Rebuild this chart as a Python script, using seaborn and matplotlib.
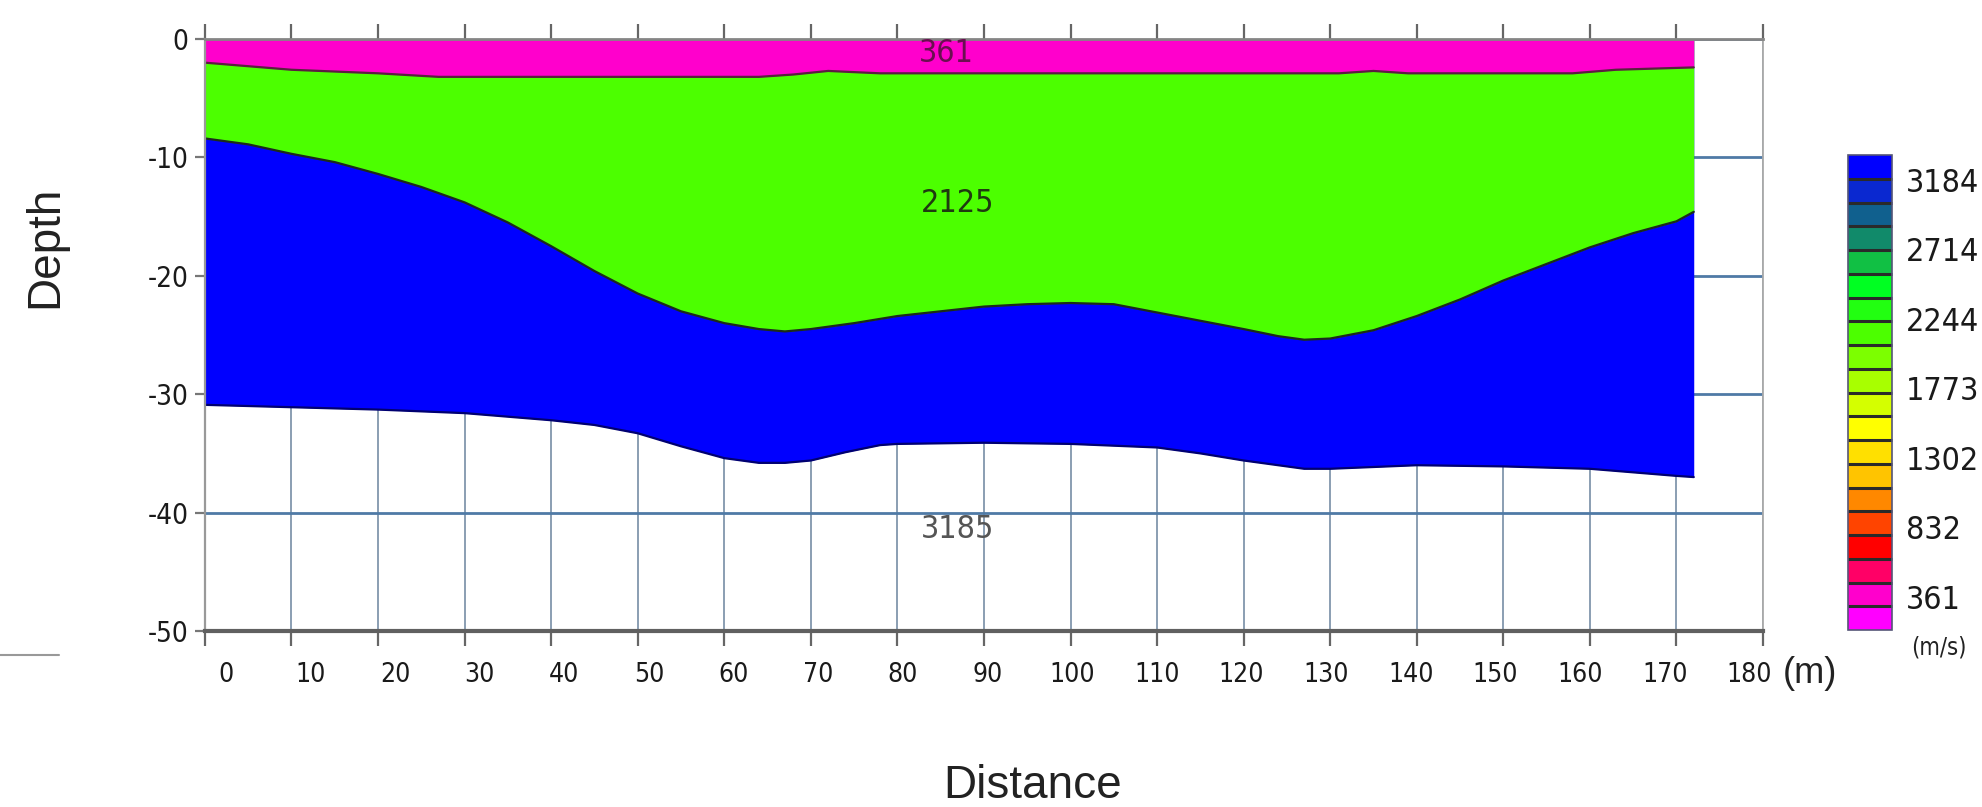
import numpy as np
import pandas as pd
import matplotlib
matplotlib.use("Agg")
import matplotlib.pyplot as plt
import seaborn as sns
from matplotlib import font_manager
from matplotlib.colors import ListedColormap, BoundaryNorm
from matplotlib.cm import ScalarMappable
from matplotlib.lines import Line2D

# ---------------- data ----------------
# interface between 361 m/s layer and 2125 m/s layer
top_x = [0, 5, 10, 20, 27, 64, 68, 72, 78, 131, 135, 139, 158, 163, 172]
top_depth = [-2.0, -2.3, -2.6, -2.9, -3.2, -3.2, -3.0, -2.7, -2.9, -2.9, -2.7, -2.9, -2.9, -2.6, -2.4]

# interface between 2125 m/s layer and 3184 m/s layer
mid_x = [0, 5, 10, 15, 20, 25, 30, 35, 40, 45, 50, 55, 60, 64, 67, 70, 75, 80, 85, 90, 95, 100, 105,
         110, 115, 120, 124, 127, 130, 135, 140, 145, 150, 155, 160, 165, 170, 172]
mid_depth = [-8.4, -8.9, -9.7, -10.4, -11.4, -12.5, -13.8, -15.5, -17.5, -19.6, -21.5, -23.0, -24.0,
             -24.5, -24.7, -24.5, -24.0, -23.4, -23.0, -22.6, -22.4, -22.3, -22.4, -23.1, -23.8, -24.5,
             -25.1, -25.4, -25.3, -24.6, -23.4, -22.0, -20.4, -19.0, -17.6, -16.4, -15.4, -14.6]

# bottom of the 3184 m/s layer
bot_x = [0, 10, 20, 30, 40, 45, 50, 55, 60, 64, 67, 70, 74, 78, 80, 90, 100, 110, 115, 120, 127, 130,
         140, 150, 160, 170, 172]
bot_depth = [-30.9, -31.1, -31.3, -31.6, -32.2, -32.6, -33.3, -34.4, -35.4, -35.8, -35.8, -35.6, -34.9,
             -34.3, -34.2, -34.1, -34.2, -34.5, -35.0, -35.6, -36.3, -36.3, -36.0, -36.1, -36.3, -36.9,
             -37.0]

layer_labels = ["361", "2125", "3185"]
layer_label_x = [85.7, 86.9, 86.9]
layer_label_depth = [-1.2, -13.9, -41.4]

x_ticks = list(range(0, 181, 10))
x_tick_labels = [str(v) for v in x_ticks]
y_ticks = list(range(-50, 1, 10))
y_tick_labels = [str(v) for v in y_ticks]

cb_ticks = [361, 832, 1302, 1773, 2244, 2714, 3184]
cb_min, cb_max, cb_nbands = 136, 3354, 20
cb_colors = ['#ff00ff', '#ff00cc', '#ff0066', '#ff0000', '#ff4400', '#ff8800', '#ffc400', '#ffe000',
             '#ffff00', '#d4ff00', '#a8ff00', '#7cff00', '#4cff00', '#22ff11', '#00ff22', '#11c044',
             '#118a6a', '#10608e', '#0a28d0', '#0000ff']

PINK, GREEN, BLUE = '#ff00cc', '#4cff00', '#0000ff'

# ---------------- style ----------------
sns.set_theme(style="white")
plt.rcParams['font.family'] = ['Liberation Sans', 'DejaVu Sans']
names = {f.name for f in font_manager.fontManager.ttflist}
if 'Liberation Sans Narrow' in names:
    NARROW = dict(family=['Liberation Sans Narrow', 'DejaVu Sans'])
else:
    NARROW = dict(family=['DejaVu Sans'], stretch='condensed')

fig = plt.figure(figsize=(19.82, 8.07), dpi=100)
ax = fig.add_axes([0.1034, 0.2181, 0.7861, 0.7336])
ax.set_xlim(0, 180)
ax.set_ylim(-50, 0)

# layers (painter's order)
ax.fill_between(bot_x, 0, bot_depth, color=BLUE, lw=0, zorder=1.0)
ax.fill_between(mid_x, 0, mid_depth, color=GREEN, lw=0, zorder=1.1)
ax.fill_between(top_x, 0, top_depth, color=PINK, lw=0, zorder=1.2)

df_top = pd.DataFrame({'x': top_x, 'depth': top_depth})
df_mid = pd.DataFrame({'x': mid_x, 'depth': mid_depth})
df_bot = pd.DataFrame({'x': bot_x, 'depth': bot_depth})
sns.lineplot(data=df_top, x='x', y='depth', color='#5a1f3f', lw=1.6, sort=False, estimator=None, ax=ax, zorder=1.3)
sns.lineplot(data=df_mid, x='x', y='depth', color='#1c2a1c', lw=1.6, sort=False, estimator=None, ax=ax, zorder=1.3)
sns.lineplot(data=df_bot, x='x', y='depth', color='#000070', lw=1.6, sort=False, estimator=None, ax=ax, zorder=1.3)

for t, lx, ly, c in zip(layer_labels, layer_label_x, layer_label_depth, ['#6a0f50', '#1f3a10', '#555555']):
    ax.text(lx, ly, t, ha='center', va='center', color=c, fontsize=23, zorder=3, **NARROW)

# grid
ax.set_axisbelow(True)
ax.set_xticks(x_ticks)
ax.set_yticks(y_ticks)
ax.set_xticklabels([])
ax.xaxis.grid(True, color='#8196ad', lw=1.3)
ax.yaxis.grid(True, color='#4f7aa6', lw=2.0)

ax.tick_params(axis='x', bottom=True, top=True, direction='out', length=11, width=1.6,
               color='#666666', labelbottom=False)
ax.tick_params(axis='y', left=True, right=False, direction='out', length=7, width=1.6,
               color='#777777', pad=5)
ax.set_yticks(y_ticks, labels=y_tick_labels, fontsize=20, color='#1a1a1a', **NARROW)

for s, c, w in [('left', '#999999', 1.6), ('bottom', '#606060', 3.0), ('top', '#858585', 2.0), ('right', '#aaaaaa', 1.3)]:
    ax.spines[s].set_visible(True)
    ax.spines[s].set_color(c)
    ax.spines[s].set_linewidth(w)

# x tick labels (slightly offset from grid lines as in the reference)
sec = ax.secondary_xaxis('bottom', functions=(lambda x: (x - 2.4) / 0.978, lambda v: 2.4 + 0.978 * v))
sec.set_xticks(x_ticks, labels=x_tick_labels, fontsize=19, color='#1a1a1a', **NARROW)
sec.tick_params(length=0, pad=22)
sec.spines['bottom'].set_visible(False)

ax.set_xlabel('Distance', fontsize=33, color='#222222')
ax.xaxis.label.set_va('center')
ax.xaxis.set_label_coords(0.531, -0.262)
ax.set_ylabel('Depth', fontsize=33, color='#222222')
ax.yaxis.label.set_va('center')
ax.yaxis.set_label_coords(-0.1027, 0.649)

ax.text(1.030, -0.072, '(m)', transform=ax.transAxes, ha='center', va='center', fontsize=26, color='#222222')
fig.text(0.978, 0.198, '(m/s)', ha='center', va='center', fontsize=17, color='#222222', **NARROW)

# colorbar
cax = fig.add_axes([0.9324, 0.2193, 0.0222, 0.5886])
levels = np.linspace(cb_min, cb_max, cb_nbands + 1)
cmap = ListedColormap(cb_colors)
norm = BoundaryNorm(levels, cmap.N)
cb = fig.colorbar(ScalarMappable(norm=norm, cmap=cmap), cax=cax, drawedges=True)
cb.dividers.set_color('#2a2a2a')
cb.dividers.set_linewidth(2.2)
cb.outline.set_edgecolor('#555577')
cb.outline.set_linewidth(1.2)
cb.set_ticks(cb_ticks, labels=[str(t) for t in cb_ticks])
cax.minorticks_off()
cax.tick_params(which='both', length=0, pad=10, labelsize=23, labelcolor='#1a1a1a')
for lbl in cax.get_yticklabels():
    lbl.set_family(NARROW['family'])
    if 'stretch' in NARROW:
        lbl.set_stretch(NARROW['stretch'])

# small stray line at lower left of the reference
fig.add_artist(Line2D([0.0, 0.030], [0.188, 0.188], color='#999999', lw=1.5, transform=fig.transFigure))

fig.savefig('out.png', dpi=100)
